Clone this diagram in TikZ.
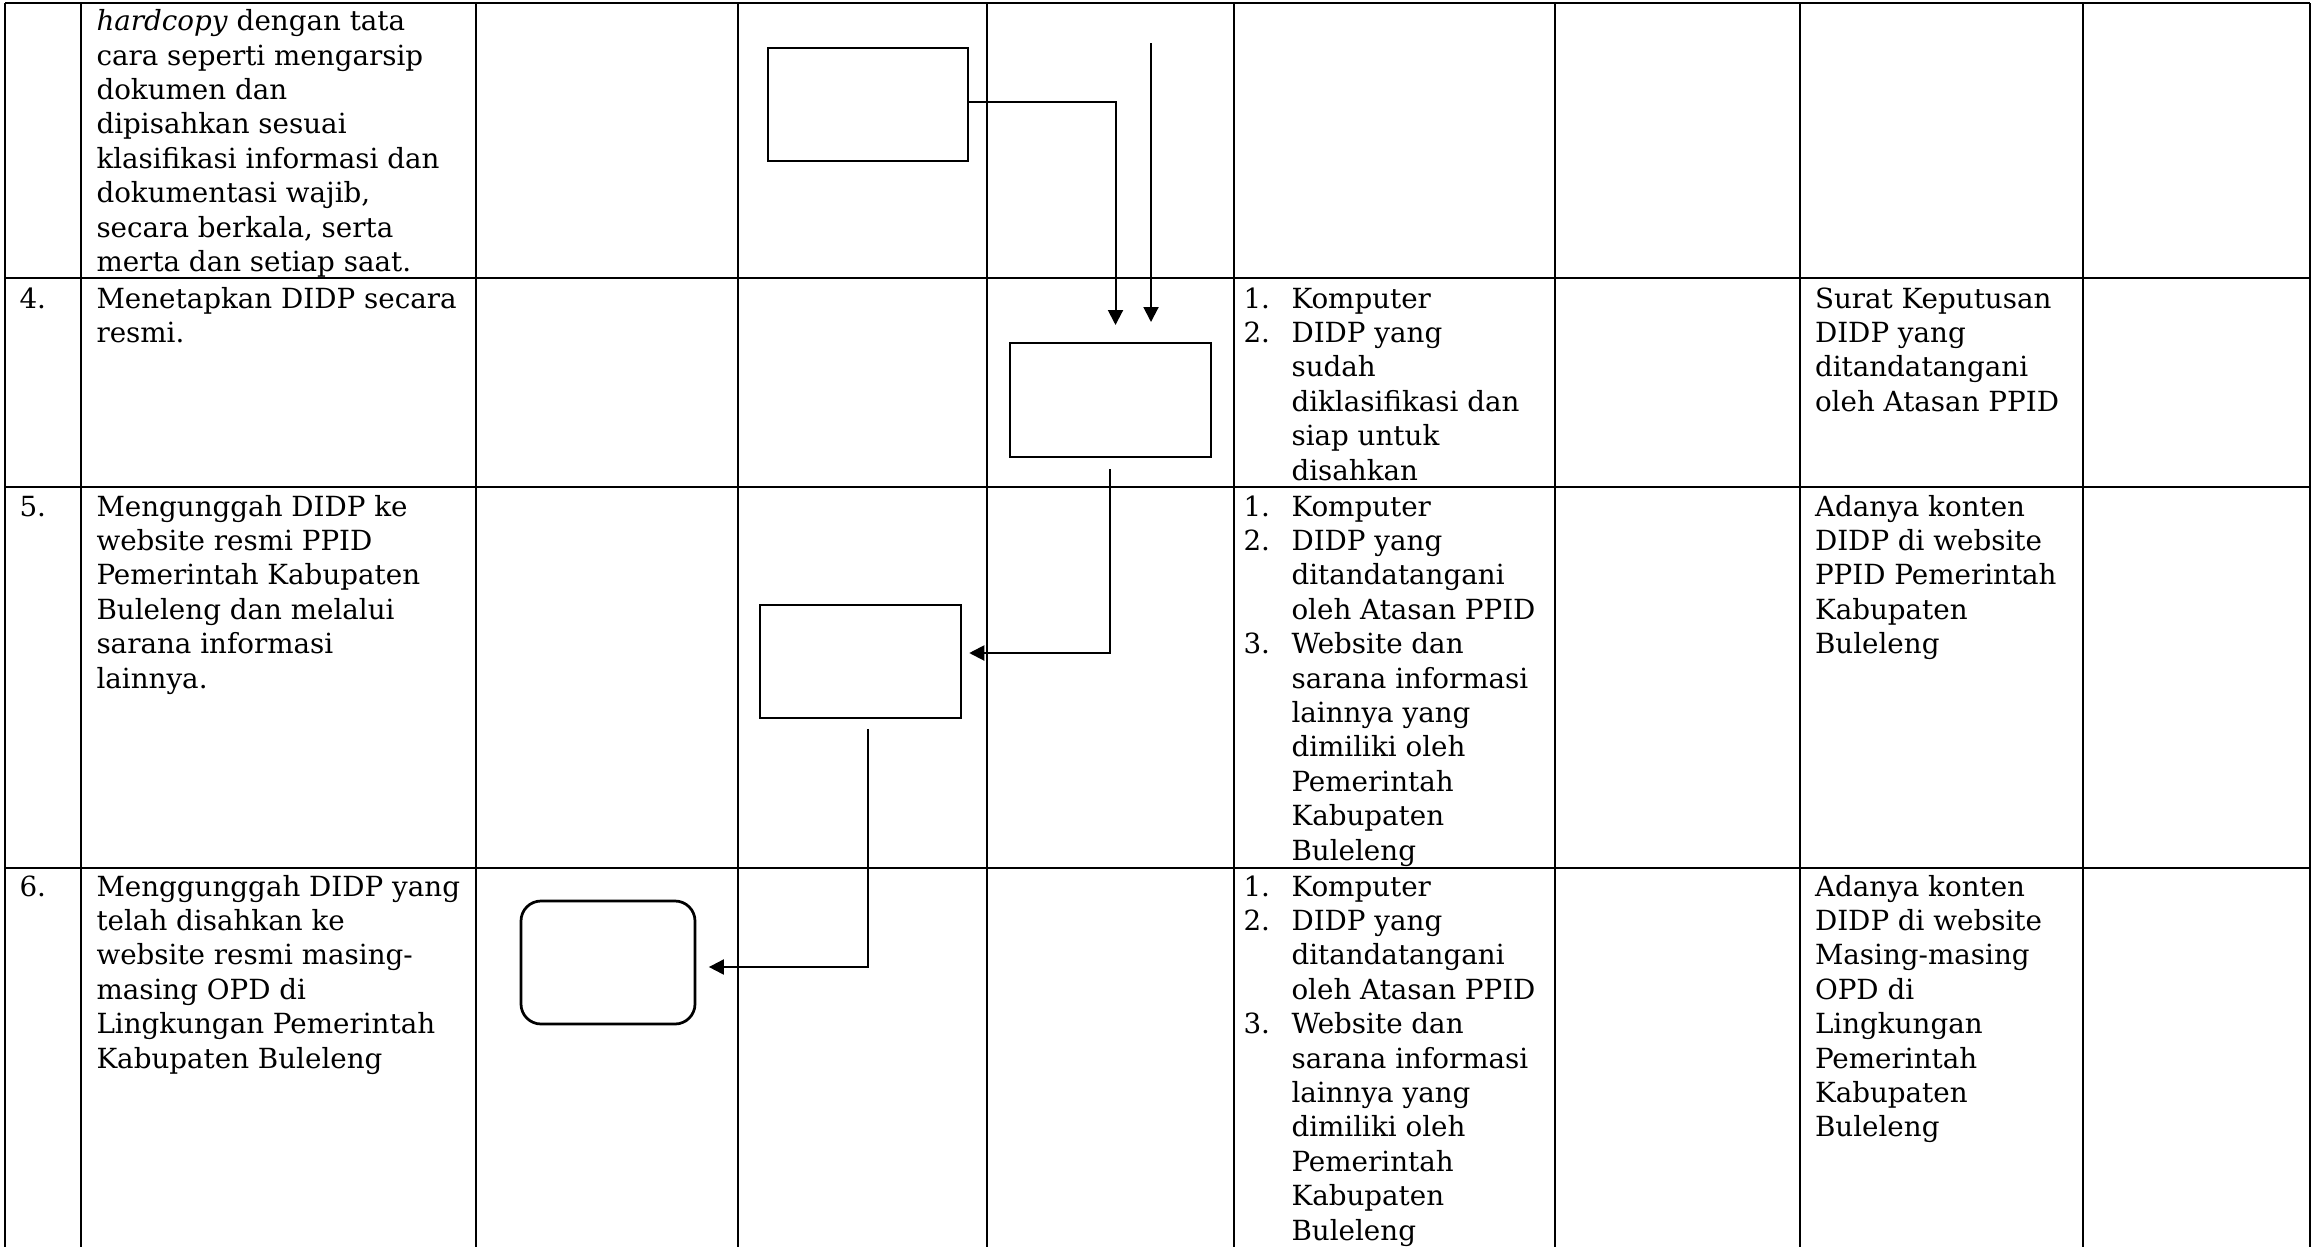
\documentclass[tikz,border=0pt]{standalone}
\usepackage{fontspec}
\setmainfont{DejaVu Serif}
\usetikzlibrary{arrows.meta}
\newcommand\celltext[1]{\vtop{\let\\\cr\baselineskip=13.76pt\lineskiplimit=-20pt\halign{##\hfil\cr#1\crcr}}}
\newcommand\listtext[1]{\vtop{\let\\\cr\baselineskip=13.76pt\lineskiplimit=-20pt\halign{\hbox to 19.2pt{##\hfil}&##\hfil\cr#1\crcr}}}
\tikzset{
  rowline/.style={line width=0.85pt},
  colline/.style={line width=0.5pt},
  collinebot/.style={line width=0.7pt},
  txt/.style={anchor=base west, inner sep=0pt, font=\fontsize{11.1}{13.76}\selectfont},
  procbox/.style={draw, line width=1pt, rectangle, inner sep=0pt},
  endbox/.style={draw, line width=1.1pt, rectangle, rounded corners=8pt, inner sep=0pt},
  arr/.style={line width=0.8pt, -{Triangle[length=6pt,width=6pt]}},
}
\begin{document}
\begin{tikzpicture}[x=0.4pt,y=-0.4pt]
\useasboundingbox (0,0) rectangle (2311,1247);
% table grid
\foreach \xx in {5,81,476,738,987,1234,1555,1800,2083,2310} {
  \draw[colline] (\xx,3) -- (\xx,868);
  \draw[collinebot] (\xx,868) -- (\xx,1247);
}
\foreach \yy in {3,278,486.6,868} {
  \draw[rowline] (5,\yy) -- (2310,\yy);
}
% row 3 (continued)
\node[txt] (r3c2) at (96,30.7) {\celltext{\textit{hardcopy} dengan tata\\cara seperti mengarsip\\dokumen dan\\dipisahkan sesuai\\klasifikasi informasi dan\\dokumentasi wajib,\\secara berkala, serta\\merta dan setiap saat.}};
% row 4
\node[txt] (r4c1) at (19,308) {4.};
\node[txt] (r4c2) at (96,308) {\celltext{Menetapkan DIDP secara\\resmi.}};
\node[txt] (r4c5) at (1243,308) {\listtext{1.&Komputer\\2.&DIDP yang\\&sudah\\&diklasifikasi dan\\&siap untuk\\&disahkan}};
\node[txt] (r4c7) at (1814.5,308) {\celltext{Surat Keputusan\\DIDP yang\\ditandatangani\\oleh Atasan PPID}};
% row 5
\node[txt] (r5c1) at (19,516) {5.};
\node[txt] (r5c2) at (96,516) {\celltext{Mengunggah DIDP ke\\website resmi PPID\\Pemerintah Kabupaten\\Buleleng dan melalui\\sarana informasi\\lainnya.}};
\node[txt] (r5c5) at (1243,516) {\listtext{1.&Komputer\\2.&DIDP yang\\&ditandatangani\\&oleh Atasan PPID\\3.&Website dan\\&sarana informasi\\&lainnya yang\\&dimiliki oleh\\&Pemerintah\\&Kabupaten\\&Buleleng}};
\node[txt] (r5c7) at (1814.5,516) {\celltext{Adanya konten\\DIDP di website\\PPID Pemerintah\\Kabupaten\\Buleleng}};
% row 6
\node[txt] (r6c1) at (19,896) {6.};
\node[txt] (r6c2) at (96,896) {\celltext{Menggunggah DIDP yang\\telah disahkan ke\\website resmi masing-\\masing OPD di\\Lingkungan Pemerintah\\Kabupaten Buleleng}};
\node[txt] (r6c5) at (1243,896) {\listtext{1.&Komputer\\2.&DIDP yang\\&ditandatangani\\&oleh Atasan PPID\\3.&Website dan\\&sarana informasi\\&lainnya yang\\&dimiliki oleh\\&Pemerintah\\&Kabupaten\\&Buleleng}};
\node[txt] (r6c7) at (1814.5,896) {\celltext{Adanya konten\\DIDP di website\\Masing-masing\\OPD di\\Lingkungan\\Pemerintah\\Kabupaten\\Buleleng}};
% flow shapes
\node[procbox, minimum width=80pt, minimum height=45.2pt] (A) at (868,104.5) {};
\node[procbox, minimum width=80.4pt, minimum height=45.6pt] (B) at (1110.5,400) {};
\node[procbox, minimum width=80.4pt, minimum height=45.2pt] (C) at (860.5,661.5) {};
\node[endbox, minimum width=69.6pt, minimum height=49.2pt] (D) at (608,962.5) {};
% connectors
\coordinate (t1) at (1115.5,325);
\draw[arr] ([yshift=1.2pt]A.east) -| (t1);
\coordinate (s2) at (1151,43);
\coordinate (t2) at (1151,322);
\draw[arr] (s2) -- (t2);
\draw[arr] ([xshift=-0.4pt,yshift=-4.4pt]B.south) |- ([xshift=2.8pt,yshift=3.4pt]C.east);
\draw[arr] ([xshift=3pt,yshift=-3.8pt]C.south) |- ([xshift=5pt,yshift=-1.8pt]D.east);
\end{tikzpicture}
\end{document}
